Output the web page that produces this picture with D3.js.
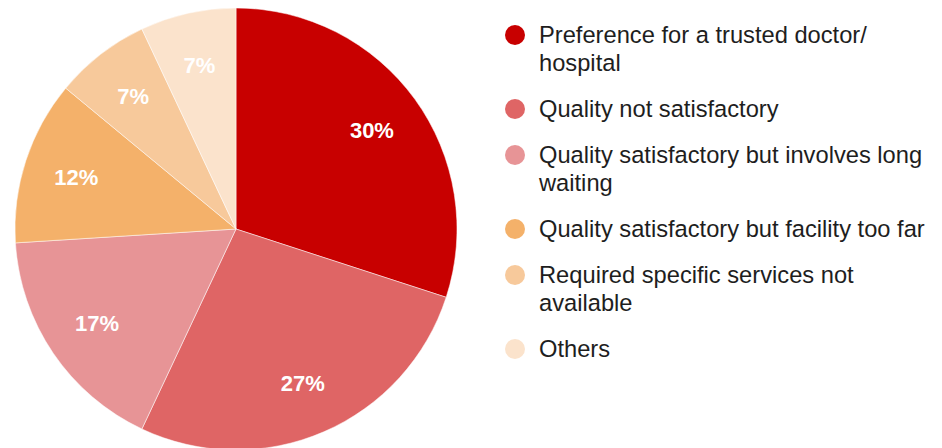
<!DOCTYPE html>
<html>
<head>
<meta charset="utf-8">
<script src="https://cdn.jsdelivr.net/npm/d3@7"></script>
<style>
  body { margin: 0; background: #fff; }
  svg { display: block; }
</style>
</head>
<body>
<div id="container"></div>
<script>
var categories = [
  "Preference for a trusted doctor/ hospital",
  "Quality not satisfactory",
  "Quality satisfactory but involves long waiting",
  "Quality satisfactory but facility too far",
  "Required specific services not available",
  "Others"
];
// legend lines as wrapped in the original
var legendLines = [
  ["Preference for a trusted doctor/", "hospital"],
  ["Quality not satisfactory"],
  ["Quality satisfactory but involves long", "waiting"],
  ["Quality satisfactory but facility too far"],
  ["Required specific services not", "available"],
  ["Others"]
];
var values = [30, 27, 17, 12, 7, 7];
var colors = ["#c80000", "#df6565", "#e79496", "#f4b16a", "#f7c99b", "#fbe3cc"];

var width = 942, height = 448;
var cx = 236, cy = 229, radius = 221;

var svg = d3.select("#container")
    .append("svg")
    .attr("width", width)
    .attr("height", height);

var color = d3.scaleOrdinal()
    .domain(categories)
    .range(colors);

var pie = d3.pie()
    .sort(null)
    .value(function(d) { return d.value; });

var data = categories.map(function(c, i) { return {name: c, value: values[i]}; });

var arc = d3.arc().innerRadius(0).outerRadius(radius);
var labelArc = d3.arc().innerRadius(168).outerRadius(168);

var g = svg.append("g")
    .attr("transform", "translate(" + cx + "," + cy + ")");

g.selectAll("path")
    .data(pie(data))
    .enter()
    .append("path")
    .attr("d", arc)
    .attr("fill", function(d) { return color(d.data.name); })
    .attr("stroke", "#fff")
    .attr("stroke-width", 0.5);

g.selectAll("text")
    .data(pie(data))
    .enter()
    .append("text")
    .attr("transform", function(d) { return "translate(" + labelArc.centroid(d) + ")"; })
    .attr("dy", "0.35em")
    .style("text-anchor", "middle")
    .style("font-family", "'Liberation Sans', Arial, sans-serif")
    .style("font-weight", "bold")
    .style("font-size", "22px")
    .style("fill", "#fff")
    .text(function(d) { return d.data.value + "%"; });

// legend
var lineH = 28;
var legend = svg.append("g");
var y = 35;
categories.forEach(function(c, i) {
    var item = legend.append("g").attr("transform", "translate(515," + y + ")");
    item.append("circle")
        .attr("r", 10)
        .attr("fill", color(c));
    var t = item.append("text")
        .attr("x", 24)
        .attr("y", 8)
        .style("font-family", "'Liberation Sans', Arial, sans-serif")
        .style("font-size", "23.7px")
        .style("fill", "#1e1e1e");
    legendLines[i].forEach(function(line, j) {
        t.append("tspan")
            .attr("x", 24)
            .attr("dy", j === 0 ? 0 : lineH)
            .text(line);
    });
    y += legendLines[i].length * lineH + 18;
});
</script>
</body>
</html>
